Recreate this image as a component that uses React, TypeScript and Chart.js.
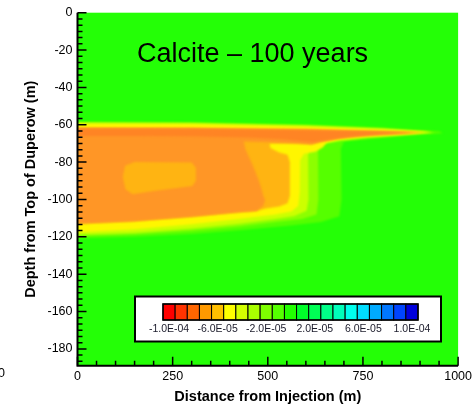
import { useEffect, useRef } from 'react';
import { Chart, registerables } from 'chart.js';

Chart.register(...registerables);

// ---- axes ----
const xRange = [0, 1000];
const yRange = [-189, 0];
const xTickValues = [0, 250, 500, 750, 1000];
const yTickValues = [0, -20, -40, -60, -80, -100, -120, -140, -160, -180];
const xMinorStep = 50;
const yMinorStep = 20 / 6;

// ---- colour legend ----
const legendLevels = [
  -1.0e-4, -9e-5, -8e-5, -7e-5, -6e-5, -5e-5, -4e-5, -3e-5, -2e-5, -1e-5, 0,
  1e-5, 2e-5, 3e-5, 4e-5, 5e-5, 6e-5, 7e-5, 8e-5, 9e-5, 1.0e-4,
];
const legendColors = [
  '#ff0000', '#ff3300', '#ff6600', '#ff9900', '#ffbf00', '#ffff00', '#d4ff00',
  '#aaff00', '#7fff00', '#55ff00', '#22ff00', '#00ff2a', '#00ff55', '#00ff88',
  '#00ffbb', '#00ffee', '#00ddff', '#00aaff', '#0077ff', '#0044ff', '#0000dd',
];
const legendLabels = ['-1.0E-04', '-6.0E-05', '-2.0E-05', '2.0E-05', '6.0E-05', '1.0E-04'];
const legendLabelIndex = [0, 4, 8, 12, 16, 20];

// ---- contour regions (distance m, depth m) ----
const backgroundColor = '#24ff06';

const zoneGreenLight: [number, number][] = [
  [0, -58.3], [300, -58.5], [600, -59.8], [800, -61.5], [950, -63.5], [960, -64.6],
  [850, -66.2], [760, -67.8], [700, -69], [692, -73], [694, -100], [688, -109],
  [640, -112], [560, -114], [424, -116.5], [300, -118.5], [150, -120], [0, -120.8],
];
const zoneGreenYellow: [number, number][] = [
  [0, -58.8], [300, -59], [600, -60.3], [800, -62], [940, -64], [850, -65.8],
  [760, -67.2], [690, -68.8], [650, -70.3], [632, -72.5], [633, -100], [628, -108],
  [590, -110.5], [520, -112], [424, -114.5], [300, -116.8], [150, -118.6], [0, -119.5],
];
const zoneLime: [number, number][] = [
  [0, -59.1], [300, -59.3], [600, -60.6], [800, -62.3], [935, -64], [850, -65.4],
  [760, -66.7], [690, -68.3], [640, -70.2], [610, -72], [606, -76], [607, -100],
  [602, -106], [570, -108.8], [520, -110.5], [424, -113], [300, -115.5], [150, -117.8],
  [0, -118.8],
];
const zoneYellow: [number, number][] = [
  [0, -59.5], [300, -59.7], [600, -61], [800, -62.6], [930, -64], [850, -65.1],
  [760, -66.3], [690, -67.8], [655, -69.3], [645, -72], [625, -74.5], [595, -75.5],
  [585, -79], [584, -96], [580, -103.5], [562, -106.5], [520, -108], [424, -110.5],
  [300, -113.2], [150, -116], [0, -117.6],
];
const zoneLightOrange: [number, number][] = [
  [0, -61.7], [300, -61.8], [600, -62.6], [800, -63.6], [910, -64.1], [850, -64.8],
  [760, -65.8], [690, -67.2], [640, -69.2], [615, -70.6], [580, -70.2], [540, -70],
  [505, -70], [507, -72.5], [530, -74.8], [552, -76], [558, -80], [558, -98],
  [552, -102], [530, -103.8], [495, -104.8], [470, -106.2], [424, -106.8],
  [300, -109.3], [150, -111.7], [0, -113],
];
const zoneOrange: [number, number][] = [
  [0, -61.7], [300, -61.8], [600, -62.6], [800, -63.6], [905, -64.1], [850, -64.7],
  [760, -65.7], [690, -67], [640, -69], [615, -70.4], [580, -69.9], [540, -69.6],
  [500, -69.4], [437, -69], [441, -73], [450, -77], [458, -80.6], [467, -85],
  [476, -89.6], [483, -94], [489, -98.5], [493, -100.3], [488, -103.5], [470, -106.2],
  [424, -106.8], [300, -109.3], [150, -111.7], [0, -113],
];
const zoneOrangeBlob: [number, number][] = [
  [150, -80], [300, -80.2], [311, -83], [311, -90], [302, -92.8], [200, -95.5],
  [145, -97.2], [126, -94.5], [119, -88], [125, -82],
];
const zoneRedOrange: [number, number][] = [
  [0, -62], [300, -62.1], [600, -62.9], [800, -63.8], [880, -64.2], [800, -64.8],
  [720, -66.3], [650, -68.3], [620, -69.2], [580, -68.5], [540, -67.8], [450, -66.8],
  [300, -66.2], [150, -66], [0, -66],
];

const zones: { points: [number, number][]; color: string }[] = [
  { points: zoneGreenLight, color: '#55ff00' },
  { points: zoneGreenYellow, color: '#8cff00' },
  { points: zoneLime, color: '#ccff00' },
  { points: zoneYellow, color: '#fff600' },
  { points: zoneLightOrange, color: '#ffb412' },
  { points: zoneOrange, color: '#ff9626' },
  { points: zoneOrangeBlob, color: '#ffb412' },
  { points: zoneRedOrange, color: '#ff8424' },
];

const titleText = 'Calcite \u2013 100 years';
const FONT = "'Liberation Sans', Arial, sans-serif";

export default function App() {
  const ref = useRef<HTMLCanvasElement | null>(null);

  useEffect(() => {
    document.body.style.margin = '0';
    const canvas = ref.current;
    if (!canvas) return;

    const decor = {
      id: 'decor',
      beforeDraw(chart: any) {
        const { ctx, chartArea: a } = chart;
        ctx.save();
        ctx.fillStyle = backgroundColor;
        ctx.fillRect(a.left, a.top, a.right - a.left, a.bottom - a.top);
        ctx.restore();
      },
      beforeDatasetsDraw(chart: any) {
        chart.ctx.filter = 'blur(0.8px)';
      },
      afterDatasetsDraw(chart: any) {
        chart.ctx.filter = 'none';
      },
      afterDraw(chart: any) {
        const { ctx, chartArea: a } = chart;
        const xs = chart.scales.x;
        const ys = chart.scales.y;
        ctx.save();
        ctx.filter = 'none';
        // title
        ctx.fillStyle = '#000';
        ctx.font = `27px ${FONT}`;
        ctx.textAlign = 'left';
        ctx.textBaseline = 'alphabetic';
        ctx.fillText(titleText, 137, 61.5);

        // ticks
        ctx.strokeStyle = '#000';
        ctx.lineWidth = 1.5;
        ctx.beginPath();
        for (let v = xRange[0]; v <= xRange[1] + 0.01; v += xMinorStep) {
          const px = xs.getPixelForValue(v);
          const major = xTickValues.includes(Math.round(v));
          ctx.moveTo(px, a.bottom);
          ctx.lineTo(px, a.bottom - (major ? 9 : 5));
        }
        for (let k = 0; k * yMinorStep <= -yRange[0] + 0.01; k++) {
          const v = -k * yMinorStep;
          const py = ys.getPixelForValue(v);
          const major = k % 6 === 0;
          ctx.moveTo(a.left, py);
          ctx.lineTo(a.left + (major ? 9 : 5), py);
        }
        ctx.stroke();
        // axis lines
        ctx.lineWidth = 2;
        ctx.beginPath();
        ctx.moveTo(a.left, a.top);
        ctx.lineTo(a.left, a.bottom);
        ctx.lineTo(a.right, a.bottom);
        ctx.stroke();

        // legend box
        const bx = 135, by = 296.5, bw = 306, bh = 45;
        ctx.fillStyle = '#fff';
        ctx.fillRect(bx, by, bw, bh);
        ctx.lineWidth = 2;
        ctx.strokeRect(bx, by, bw, bh);
        const cx0 = 163, cw = 255 / legendLevels.length, cy = 304, ch = 16;
        ctx.lineWidth = 1;
        legendColors.forEach((c, i) => {
          ctx.fillStyle = c;
          ctx.fillRect(cx0 + i * cw, cy, cw, ch);
          ctx.strokeStyle = '#000';
          ctx.strokeRect(cx0 + i * cw, cy, cw, ch);
        });
        ctx.lineWidth = 1.5;
        ctx.strokeRect(cx0, cy, cw * legendLevels.length, ch);
        ctx.fillStyle = '#1a1a2a';
        ctx.font = `10.5px ${FONT}`;
        ctx.textAlign = 'center';
        ctx.textBaseline = 'middle';
        legendLabels.forEach((t, j) => {
          ctx.fillText(t, cx0 + (legendLabelIndex[j] + 0.5) * cw, 329.5);
        });

        // fragment of neighbouring panel's tick label
        ctx.fillStyle = '#000';
        ctx.font = `12.5px ${FONT}`;
        ctx.textAlign = 'right';
        ctx.fillText('1000', 5, 374);
        ctx.restore();
      },
    };

    const datasets = zones
      .map((z) => ({
        data: z.points.map(([x, y]) => ({ x, y })),
        showLine: true,
        fill: 'shape',
        backgroundColor: z.color,
        borderColor: 'rgba(0,0,0,0)',
        borderWidth: 1,
        pointRadius: 0,
        tension: 0,
      }))
      .reverse();

    const tickFont = { family: FONT, size: 12.5 };
    const titleFont = { family: FONT, size: 14.5, weight: 'bold' as const };

    const chart = new Chart(canvas, {
      type: 'scatter',
      data: { datasets: datasets as any },
      options: {
        animation: false,
        responsive: false,
        maintainAspectRatio: false,
        devicePixelRatio: 1,
        layout: { padding: { left: 0, right: 14, top: 12.7, bottom: 0 } },
        plugins: { legend: { display: false }, tooltip: { enabled: false } },
        scales: {
          x: {
            type: 'linear',
            min: xRange[0],
            max: xRange[1],
            afterBuildTicks: (s: any) => {
              s.ticks = xTickValues.map((v) => ({ value: v }));
            },
            afterFit: (s: any) => {
              s.height = 42.3;
            },
            grid: { display: false, drawTicks: false },
            border: { display: false },
            ticks: {
              color: '#000',
              font: tickFont,
              padding: 3,
              maxRotation: 0,
              autoSkip: false,
              callback: (v: any) => String(v),
            },
            title: {
              display: true,
              text: 'Distance from Injection (m)',
              color: '#000',
              font: titleFont,
              padding: { top: 0, bottom: 2.3 },
            },
          },
          y: {
            type: 'linear',
            min: yRange[0],
            max: yRange[1],
            afterBuildTicks: (s: any) => {
              s.ticks = yTickValues.map((v) => ({ value: v }));
            },
            afterFit: (s: any) => {
              s.width = 77.5;
            },
            grid: { display: false, drawTicks: false },
            border: { display: false },
            ticks: {
              color: '#000',
              font: tickFont,
              padding: 5,
              autoSkip: false,
              callback: (v: any) => String(v),
            },
            title: {
              display: true,
              text: 'Depth from Top of Duperow (m)',
              color: '#000',
              font: titleFont,
              padding: { top: 21.8, bottom: 0 },
            },
          },
        },
      },
      plugins: [decor],
    });

    return () => chart.destroy();
  }, []);

  return <canvas ref={ref} width={475} height={408} style={{ display: 'block' }} />;
}
